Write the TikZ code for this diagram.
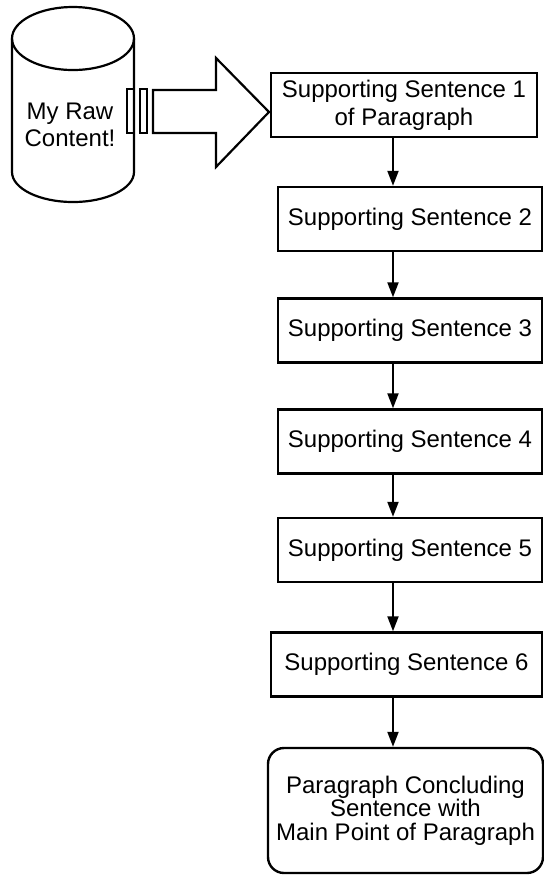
\documentclass[tikz,border=0pt]{standalone}
\usepackage{fontspec}
\setmainfont{Liberation Sans}
\usetikzlibrary{arrows.meta,positioning,calc}

\begin{document}
\begin{tikzpicture}[x=0.5pt,y=-0.5pt,
          box/.style={draw, line width=1.2pt, inner sep=0pt,
            minimum width=132pt, minimum height=32pt, align=center,
            font=\fontsize{12}{13.8}\selectfont},
          link/.style={->, line width=1pt},
          >={Triangle[length=7.5pt,width=5.5pt]}
        ]
          \useasboundingbox (0,0) rectangle (544,875);
          % raw content store
          \draw[line width=1.1pt] (73,38.5) ellipse [x radius=61, y radius=31.5];
          \draw[line width=1.1pt] (12,38.5) -- (12,172)
            arc [start angle=180, end angle=0, x radius=61, y radius=30] -- (134,38.5);
          \node[align=center, font=\fontsize{12}{13.8}\selectfont] (raw) at (70,125) {My Raw\\Content!};
          % big arrow into first sentence
          \draw[line width=1.1pt] (127,89) rectangle (134,133);
          \draw[line width=1.1pt] (140,89) rectangle (147,133);
          \draw[line width=1.1pt] (153,90) -- (216,90) -- (216,58) -- (269,112)
            -- (216,167) -- (216,133) -- (153,133) -- cycle;
          % sentences
          \node[box, minimum width=133pt] (s1) at (404,105) {Supporting Sentence 1\\of Paragraph};
          \node[box] (s2) at (410,219) {Supporting Sentence 2};
          \node[box] (s3) at (410,330.5) {Supporting Sentence 3};
          \node[box] (s4) at (410,441.5) {Supporting Sentence 4};
          \node[box] (s5) at (410,550) {Supporting Sentence 5};
          \node[box, minimum width=135.5pt] (s6) at (406.5,664.5) {Supporting Sentence 6};
          \node[box, rounded corners=8pt, minimum width=137.5pt, minimum height=62.5pt,
            font=\fontsize{12}{11.8}\selectfont] (end) at (405.5,810.5)
            {Paragraph Concluding\\Sentence with\\Main Point of Paragraph};
          \coordinate (spine) at (393,0);
          \foreach \a/\b in {s1/s2,s2/s3,s3/s4,s4/s5,s5/s6,s6/end}
            \draw[link] (\a.south -| spine) -- (\b.north -| spine);
        \end{tikzpicture}
\end{document}
